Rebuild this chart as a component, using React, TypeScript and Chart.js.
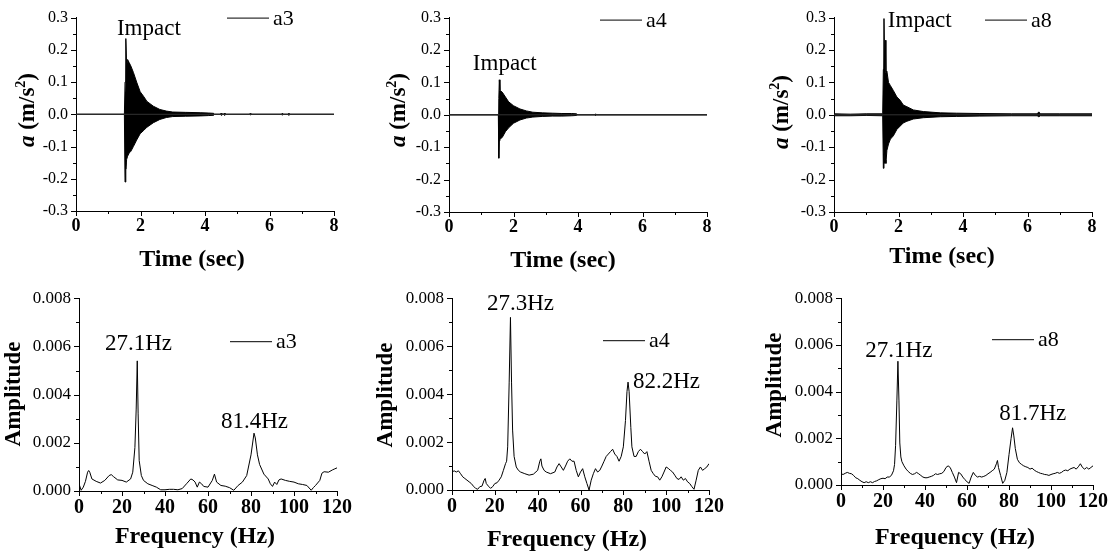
import React, { useEffect, useRef } from "react";
import { Chart, registerables } from "chart.js";

Chart.register(...registerables);

const FONT = "'Liberation Serif', 'Times New Roman', Times, serif";

// ---------- tick values ----------
const timeTicks = [0, 2, 4, 6, 8];
const accelTicks = [-0.3, -0.2, -0.1, 0, 0.1, 0.2, 0.3];
const freqTicks = [0, 20, 40, 60, 80, 100, 120];
const ampTicks = [0, 0.002, 0.004, 0.006, 0.008];

// zero line of the time records [time, a]
const baselineTime = [
  [0, 0],
  [8, 0],
];

// ---------- time records: [time (s), upper envelope, lower envelope] ----------
const a3Envelope = [
  [0, 0, 0], [1.5, 0, 0], [1.52, 0.1, -0.21], [1.54, 0.12, -0.15], [1.55, 0.235, -0.17],
  [1.57, 0.15, -0.14], [1.6, 0.17, -0.13], [1.65, 0.16, -0.12], [1.7, 0.15, -0.115],
  [1.78, 0.13, -0.1], [1.88, 0.1, -0.08], [1.99, 0.07, -0.06], [2.1, 0.055, -0.05],
  [2.2, 0.04, -0.04], [2.4, 0.025, -0.026], [2.6, 0.015, -0.016], [2.8, 0.01, -0.01],
  [3.0, 0.007, -0.007], [3.4, 0.006, -0.006], [3.85, 0.005, -0.005], [4.1, 0.004, -0.004],
  [4.27, 0.003, -0.003], [4.3, 0, 0], [4.48, 0, 0], [4.5, 0.004, -0.003], [4.52, 0, 0],
  [4.58, 0, 0], [4.6, 0.004, -0.003], [4.62, 0, 0], [5.38, 0, 0], [5.4, 0.003, -0.002],
  [5.42, 0, 0], [6.38, 0, 0], [6.4, 0.004, -0.003], [6.42, 0, 0], [6.58, 0, 0],
  [6.6, 0.004, -0.003], [6.62, 0, 0], [8, 0, 0],
];

const a4Envelope = [
  [0, 0, 0], [1.53, 0, 0], [1.545, 0.05, -0.134], [1.56, 0.108, -0.08], [1.58, 0.075, -0.075],
  [1.65, 0.07, -0.07], [1.75, 0.055, -0.052], [1.85, 0.04, -0.04], [2.0, 0.028, -0.026],
  [2.2, 0.018, -0.016], [2.4, 0.012, -0.01], [2.6, 0.008, -0.007], [2.9, 0.006, -0.005],
  [3.2, 0.005, -0.004], [3.5, 0.004, -0.004], [3.8, 0.004, -0.003], [3.95, 0.003, -0.002],
  [4.0, 0, 0], [4.53, 0, 0], [4.55, 0.003, -0.002], [4.57, 0, 0], [8, 0, 0],
];

const a8Envelope = [
  [0, 0.003, -0.003], [0.5, 0.002, -0.003], [1.0, 0.003, -0.002], [1.51, 0.003, -0.003],
  [1.53, 0.14, -0.165], [1.55, 0.297, -0.12], [1.57, 0.15, -0.15], [1.59, 0.23, -0.14],
  [1.61, 0.13, -0.15], [1.64, 0.135, -0.11], [1.69, 0.1, -0.09], [1.75, 0.09, -0.075],
  [1.84, 0.075, -0.065], [1.95, 0.055, -0.045], [2.05, 0.045, -0.035], [2.15, 0.03, -0.025],
  [2.26, 0.025, -0.02], [2.46, 0.015, -0.013], [2.77, 0.01, -0.009], [3.3, 0.006, -0.006],
  [3.8, 0.005, -0.005], [4.5, 0.004, -0.004], [5.5, 0.003, -0.003], [6.3, 0.003, -0.003],
  [6.35, 0.009, -0.006], [6.4, 0.003, -0.003], [7.0, 0.003, -0.003], [8, 0.003, -0.003],
];

// ---------- spectra: [frequency (Hz), amplitude] ----------
const a3Spectrum = [
  [0, 0.0003], [1, 0.00003], [2, 0.00016], [3, 0.0004], [4, 0.00078], [4.5, 0.00085],
  [5, 0.00078], [6, 0.0005], [8, 0.0004], [10, 0.00033], [12, 0.00044], [14, 0.00064],
  [15, 0.00068], [16, 0.0006], [18, 0.00046], [20, 0.00044], [22, 0.00037], [24, 0.0005],
  [25, 0.00078], [26, 0.0018], [26.6, 0.0034], [27.1, 0.0054], [27.5, 0.0032], [28, 0.00126],
  [29, 0.00064], [30, 0.00044], [32, 0.0003], [34, 0.00023], [36, 0.00016], [38, 0.00005],
  [40, 0.00005], [42, 0.00007], [44, 0.00007], [46, 0.00005], [48, 0.0001], [50, 0.0003],
  [52, 0.0005], [53, 0.00046], [54, 0.00037], [55, 0.00016], [56, 0.00037], [57, 0.0003],
  [58, 0.00019], [60, 0.00016], [62, 0.00044], [63, 0.0007], [64, 0.00037], [66, 0.00023],
  [68, 0.0002], [70, 0.00014], [72, 0.00003], [74, 0.00023], [76, 0.00037], [78, 0.00064],
  [80, 0.0015], [81.4, 0.0024], [82, 0.0022], [83, 0.0015], [84, 0.0011], [86, 0.0007],
  [88, 0.0005], [89, 0.0003], [90, 0.00019], [91, 0.00037], [92, 0.00027], [93, 0.00046],
  [94, 0.0005], [96, 0.00044], [98, 0.0004], [100, 0.00037], [102, 0.0003], [104, 0.00027],
  [106, 0.00023], [108, 0.00003], [109, 0.00014], [110, 0.00023], [112, 0.00044],
  [113, 0.00074], [114, 0.0008], [116, 0.00078], [118, 0.00088], [119, 0.00092], [120, 0.00096],
];

const a4Spectrum = [
  [0, 0.00075], [1, 0.0008], [2, 0.00075], [3, 0.0008], [4, 0.00068], [5, 0.00055],
  [6, 0.00048], [7, 0.00041], [8, 0.00034], [9, 0.00027], [10, 0.00016], [11, 0.00007],
  [12, 0.00003], [13, 0.00014], [14, 0.00016], [15, 0.00041], [15.5, 0.00048], [16, 0.00027],
  [17, 0.00016], [18, 0.00007], [19, 0.00014], [20, 0.00027], [21, 0.0003], [22, 0.00041],
  [23, 0.00055], [24, 0.00082], [25, 0.0011], [25.5, 0.0012], [26, 0.0018], [26.7, 0.0045],
  [27.3, 0.0072], [27.8, 0.0045], [28.3, 0.0025], [29, 0.0014], [30, 0.00096], [31, 0.00082],
  [32, 0.00075], [34, 0.00068], [36, 0.00062], [38, 0.00066], [40, 0.00082], [41, 0.0012],
  [41.5, 0.0013], [42, 0.001], [43, 0.00082], [44, 0.00075], [46, 0.00068], [48, 0.00075],
  [49, 0.00096], [50, 0.0011], [51, 0.00096], [52, 0.00082], [53, 0.001], [54, 0.0012],
  [55, 0.0013], [56, 0.0012], [57, 0.0012], [58, 0.00082], [59, 0.00055], [60, 0.00075],
  [61, 0.00089], [62, 0.00055], [63, 0.00027], [64, 0.0], [65, 0.00041], [66, 0.00068],
  [67, 0.00089], [68, 0.00075], [69, 0.00082], [70, 0.001], [71, 0.0012], [72, 0.0014],
  [73, 0.0015], [74, 0.0016], [75, 0.0017], [76, 0.0015], [77, 0.0014], [78, 0.0012],
  [79, 0.0014], [80, 0.0018], [81, 0.0029], [81.7, 0.0041], [82.2, 0.0045], [82.7, 0.0041],
  [83.5, 0.0026], [84, 0.0018], [85, 0.0014], [86, 0.0014], [87, 0.0016], [88, 0.0017],
  [89, 0.0016], [90, 0.0015], [91, 0.0016], [92, 0.0012], [93, 0.00082], [94, 0.00068],
  [95, 0.00057], [96, 0.00055], [97, 0.00041], [98, 0.00055], [99, 0.00075], [100, 0.00096],
  [101, 0.0009], [102, 0.00082], [103, 0.00075], [104, 0.00062], [105, 0.00048], [106, 0.00044],
  [107, 0.00055], [108, 0.00041], [109, 0.00048], [110, 0.00034], [111, 0.00027], [112, 0.00014],
  [113, 0.00003], [114, 0.00041], [115, 0.00082], [116, 0.00096], [117, 0.00082], [118, 0.00089],
  [119, 0.00096], [120, 0.0011],
];

const a8Spectrum = [
  [0, 0.00048], [1, 0.00045], [2, 0.0005], [3, 0.00054], [4, 0.0005], [5, 0.00048],
  [6, 0.00041], [7, 0.00031], [8, 0.00027], [9, 0.0002], [10, 0.00014], [11, 0.0001],
  [12, 0.00014], [13, 0.0001], [14, 0.00014], [15, 0.0001], [16, 0.00015], [17, 0.00018],
  [18, 0.00023], [19, 0.00027], [20, 0.00029], [21, 0.00027], [22, 0.00034], [23, 0.00034],
  [24, 0.00041], [25, 0.00061], [25.5, 0.00088], [26, 0.0017], [26.6, 0.0036], [27.1, 0.0053],
  [27.6, 0.0036], [28, 0.0018], [28.5, 0.0012], [29, 0.001], [30, 0.00082], [31, 0.00068],
  [32, 0.00058], [33, 0.0005], [34, 0.00045], [35, 0.00048], [36, 0.00054], [37, 0.00048],
  [38, 0.00041], [39, 0.00034], [40, 0.00031], [41, 0.00031], [42, 0.00034], [43, 0.00037],
  [44, 0.00041], [45, 0.00048], [46, 0.00045], [47, 0.00048], [48, 0.0005], [49, 0.00058],
  [50, 0.00075], [51, 0.00082], [52, 0.00075], [53, 0.00054], [54, 0.00034], [55, 0.0001],
  [56, 0.00054], [57, 0.00048], [58, 0.00034], [59, 0.00023], [60, 0.00014], [61, 0.00007],
  [62, 0.00034], [63, 0.00054], [64, 0.00041], [65, 0.00034], [66, 0.00037], [67, 0.00034],
  [68, 0.00037], [69, 0.00041], [70, 0.00048], [71, 0.00054], [72, 0.00061], [73, 0.00068],
  [74, 0.00091], [74.5, 0.00105], [75, 0.00075], [76, 0.00041], [77, 0.00007], [78, 0.0002],
  [79, 0.00054], [80, 0.0013], [81, 0.002], [81.7, 0.00245], [82.3, 0.0021], [83, 0.00156],
  [84, 0.0011], [85, 0.00095], [86, 0.00088], [87, 0.00082], [88, 0.00078], [89, 0.00075],
  [90, 0.00068], [91, 0.00072], [92, 0.00064], [93, 0.00058], [94, 0.00054], [95, 0.0005],
  [96, 0.00048], [97, 0.00045], [98, 0.00044], [99, 0.00041], [100, 0.00045], [101, 0.00048],
  [102, 0.0005], [103, 0.00054], [104, 0.0005], [105, 0.00054], [106, 0.00061], [107, 0.00064],
  [108, 0.00061], [109, 0.00068], [110, 0.00072], [111, 0.00075], [112, 0.00068], [113, 0.00078],
  [114, 0.00091], [115, 0.00075], [116, 0.00068], [117, 0.00075], [118, 0.00068], [119, 0.00075],
  [120, 0.00082],
];

// ---------- panel layout ----------
type Note = { text: string; x: number; y: number };
type Panel = {
  id: string;
  left: number;
  top: number;
  width: number;
  height: number;
  area: { l: number; t: number; r: number; b: number };
  kind: "time" | "freq";
  series: string;
  envelope?: number[][];
  spectrum?: number[][];
  xTitle: [number, number];
  yTitle: [number, number];
  legendDy: number;
  notes: Note[];
};

const panels: Panel[] = [
  {
    id: "p1", left: 0, top: 0, width: 370, height: 280,
    area: { l: 76, t: 16, r: 334, b: 211 }, kind: "time", series: "a3", envelope: a3Envelope,
    xTitle: [192, 260], yTitle: [28, 110], legendDy: 0,
    notes: [{ text: "Impact", x: 1.27, y: 0.247 }],
  },
  {
    id: "p2", left: 370, top: 0, width: 370, height: 280,
    area: { l: 449, t: 16, r: 707, b: 212 }, kind: "time", series: "a4", envelope: a4Envelope,
    xTitle: [193, 261], yTitle: [29, 110], legendDy: 2,
    notes: [{ text: "Impact", x: 0.74, y: 0.137 }],
  },
  {
    id: "p3", left: 740, top: 0, width: 373, height: 280,
    area: { l: 834, t: 16, r: 1092, b: 212 }, kind: "time", series: "a8", envelope: a8Envelope,
    xTitle: [202, 257], yTitle: [42, 112], legendDy: 2,
    notes: [{ text: "Impact", x: 1.67, y: 0.27 }],
  },
  {
    id: "p4", left: 0, top: 280, width: 370, height: 277,
    area: { l: 79, t: 296, r: 337, b: 491 }, kind: "freq", series: "a3", spectrum: a3Spectrum,
    xTitle: [195, 257], yTitle: [14, 114], legendDy: 43,
    notes: [
      { text: "27.1Hz", x: 12.1, y: 0.00585 },
      { text: "81.4Hz", x: 66, y: 0.0026 },
    ],
  },
  {
    id: "p5", left: 370, top: 280, width: 370, height: 277,
    area: { l: 452, t: 295, r: 709, b: 490 }, kind: "freq", series: "a4", spectrum: a4Spectrum,
    xTitle: [197, 260], yTitle: [16, 115], legendDy: 42,
    notes: [
      { text: "27.3Hz", x: 16.3, y: 0.0075 },
      { text: "82.2Hz", x: 84.5, y: 0.00424 },
    ],
  },
  {
    id: "p6", left: 740, top: 280, width: 373, height: 277,
    area: { l: 841, t: 289, r: 1099, b: 485 }, kind: "freq", series: "a8", spectrum: a8Spectrum,
    xTitle: [215, 258], yTitle: [35, 105], legendDy: 41,
    notes: [
      { text: "27.1Hz", x: 11.6, y: 0.0055 },
      { text: "81.7Hz", x: 75.3, y: 0.0028 },
    ],
  },
];

function drawAccelTitle(ctx: CanvasRenderingContext2D, cx: number, cy: number) {
  const parts = [
    { t: "a", font: `italic bold 23px ${FONT}`, dy: 0 },
    { t: " (m/s", font: `bold 23px ${FONT}`, dy: 0 },
    { t: "2", font: `bold 14px ${FONT}`, dy: -9 },
    { t: ")", font: `bold 23px ${FONT}`, dy: 0 },
  ];
  ctx.save();
  ctx.translate(cx, cy);
  ctx.rotate(-Math.PI / 2);
  ctx.textAlign = "left";
  ctx.textBaseline = "alphabetic";
  ctx.fillStyle = "#000";
  let total = 0;
  const widths = parts.map((p) => {
    ctx.font = p.font;
    const w = ctx.measureText(p.t).width;
    total += w;
    return w;
  });
  let x = -total / 2;
  parts.forEach((p, i) => {
    ctx.font = p.font;
    ctx.fillText(p.t, x, 5.5 + p.dy);
    x += widths[i];
  });
  ctx.restore();
}

function buildConfig(p: Panel) {
  const isTime = p.kind === "time";
  const yAxisWidth = p.area.l - p.left;
  const xAxisHeight = p.top + p.height - p.area.b;
  const padTop = p.area.t - p.top;
  const padRight = p.left + p.width - p.area.r;
  const xTicks = isTime ? timeTicks : freqTicks;
  const yTicks = isTime ? accelTicks : ampTicks;

  const datasets: any[] = [];
  if (isTime) {
    const env = p.envelope as number[][];
    datasets.push({
      data: baselineTime.map(([x, y]) => ({ x, y })),
      borderColor: "#333", borderWidth: 1, pointRadius: 0, fill: false,
    });
    datasets.push({
      data: env.map((r) => ({ x: r[0], y: r[1] })),
      borderColor: "#000", borderWidth: 1, pointRadius: 0, fill: false,
    });
    datasets.push({
      data: env.map((r) => ({ x: r[0], y: r[2] })),
      borderColor: "#000", borderWidth: 1, pointRadius: 0,
      fill: "-1", backgroundColor: "#000",
    });
  } else {
    datasets.push({
      data: (p.spectrum as number[][]).map(([x, y]) => ({ x, y })),
      borderColor: "#000", borderWidth: 1, pointRadius: 0, fill: false,
    });
  }

  const decor = {
    id: "decor-" + p.id,
    afterDraw(chart: any) {
      const ctx: CanvasRenderingContext2D = chart.ctx;
      const xs = chart.scales.x;
      const ys = chart.scales.y;
      const area = chart.chartArea;
      ctx.save();
      ctx.strokeStyle = "#000";
      ctx.lineWidth = 1;
      // ticks (major + minor), outward
      const drawY = (v: number, len: number) => {
        const py = Math.round(ys.getPixelForValue(v)) + 0.5;
        ctx.beginPath();
        ctx.moveTo(area.left, py);
        ctx.lineTo(area.left - len, py);
        ctx.stroke();
      };
      const drawX = (v: number, len: number) => {
        const px = Math.round(xs.getPixelForValue(v)) + 0.5;
        ctx.beginPath();
        ctx.moveTo(px, area.bottom);
        ctx.lineTo(px, area.bottom + len);
        ctx.stroke();
      };
      yTicks.forEach((v, i) => {
        drawY(v, 5);
        if (i > 0) drawY((v + yTicks[i - 1]) / 2, 3);
      });
      xTicks.forEach((v, i) => {
        drawX(v, 5);
        if (i > 0) drawX((v + xTicks[i - 1]) / 2, 3);
      });

      ctx.fillStyle = "#000";
      // x title
      ctx.font = `bold 24px ${FONT}`;
      ctx.textAlign = "center";
      ctx.textBaseline = "middle";
      ctx.fillText(isTime ? "Time (sec)" : "Frequency (Hz)", p.xTitle[0], p.xTitle[1]);
      // y title
      if (isTime) {
        drawAccelTitle(ctx, p.yTitle[0], p.yTitle[1]);
      } else {
        ctx.save();
        ctx.translate(p.yTitle[0], p.yTitle[1]);
        ctx.rotate(-Math.PI / 2);
        ctx.font = `bold 23px ${FONT}`;
        ctx.textAlign = "center";
        ctx.textBaseline = "middle";
        ctx.fillText("Amplitude", 0, 0);
        ctx.restore();
      }
      // legend
      const lx = area.left + 151;
      const ly = area.top + p.legendDy + 0.5;
      ctx.beginPath();
      ctx.moveTo(lx, ly);
      ctx.lineTo(lx + 42, ly);
      ctx.stroke();
      ctx.font = `22px ${FONT}`;
      ctx.textAlign = "left";
      ctx.textBaseline = "middle";
      ctx.fillText(p.series, lx + 46, ly + 1);
      // annotations
      ctx.font = `23px ${FONT}`;
      ctx.textBaseline = "alphabetic";
      p.notes.forEach((n) => {
        ctx.fillText(n.text, xs.getPixelForValue(n.x), ys.getPixelForValue(n.y));
      });
      ctx.restore();
    },
  };

  const fmtY = (v: any) => {
    const n = Number(v);
    if (Math.abs(n) < 1e-12) return isTime ? "0.0" : "0.000";
    return n.toFixed(isTime ? 1 : 3);
  };

  return {
    type: "line",
    data: { datasets },
    options: {
      animation: false,
      responsive: false,
      maintainAspectRatio: false,
      events: [],
      layout: { padding: { left: 0, top: padTop, right: padRight, bottom: 0 } },
      plugins: {
        legend: { display: false },
        tooltip: { enabled: false },
      },
      elements: { line: { tension: 0 } },
      scales: {
        x: {
          type: "linear",
          min: xTicks[0],
          max: xTicks[xTicks.length - 1],
          grid: { display: false, drawTicks: false },
          border: { display: true, color: "#000", width: 1 },
          ticks: {
            autoSkip: false,
            maxRotation: 0,
            padding: isTime ? 5 : 5,
            color: "#000",
            font: { family: FONT, size: isTime ? 18 : 20, weight: "bold" },
            callback: (v: any) => String(Math.round(Number(v))),
          },
          afterBuildTicks: (s: any) => {
            s.ticks = xTicks.map((v) => ({ value: v }));
          },
          afterFit: (s: any) => {
            s.height = xAxisHeight;
          },
        },
        y: {
          type: "linear",
          min: yTicks[0],
          max: yTicks[yTicks.length - 1],
          grid: { display: false, drawTicks: false },
          border: { display: true, color: "#000", width: 1 },
          ticks: {
            autoSkip: false,
            padding: 8,
            color: "#000",
            font: { family: FONT, size: isTime ? 16 : 17 },
            callback: fmtY,
          },
          afterBuildTicks: (s: any) => {
            s.ticks = yTicks.map((v) => ({ value: v }));
          },
          afterFit: (s: any) => {
            s.width = yAxisWidth;
          },
        },
      },
    },
    plugins: [decor],
  };
}

function PanelChart({ p }: { p: Panel }) {
  const ref = useRef<HTMLCanvasElement>(null);
  useEffect(() => {
    if (!ref.current) return;
    const chart = new Chart(ref.current, buildConfig(p) as any);
    return () => chart.destroy();
  }, [p]);
  return (
    <canvas
      ref={ref}
      width={p.width}
      height={p.height}
      style={{ position: "absolute", left: p.left, top: p.top, width: p.width, height: p.height }}
    />
  );
}

export default function App() {
  return (
    <div
      style={{
        position: "absolute",
        left: 0,
        top: 0,
        width: 1113,
        height: 557,
        background: "#fff",
        overflow: "hidden",
      }}
    >
      {panels.map((p) => (
        <PanelChart key={p.id} p={p} />
      ))}
    </div>
  );
}
